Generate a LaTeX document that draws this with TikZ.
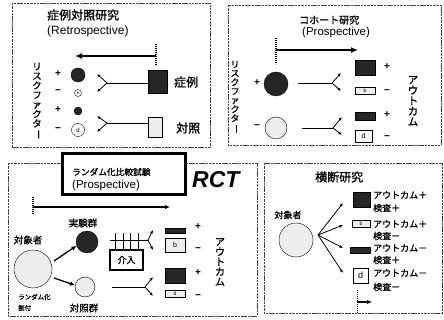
\documentclass[tikz,border=0pt]{standalone}
\usepackage{fontspec}
\setmainfont{Liberation Sans}
\newfontfamily\jp[FakeBold=1.2]{Noto Sans CJK JP}
\usetikzlibrary{arrows.meta}
\newcommand\myfs[2]{\fontsize{#1}{#2}\selectfont}
\newcommand\vbar{\rotatebox[origin=c]{-90}{ー}}
\begin{document}
\begin{tikzpicture}[x=1pt,y=-1pt,
  frame/.style={draw=black!75, line width=0.7pt, dash pattern=on 2.5pt off 0.8pt},
  dk/.style={draw=black, fill=black!85, inner sep=0},
  lt/.style={draw=black, fill=black!7, inner sep=0},
  wt/.style={draw=black, fill=white, inner sep=0},
  fk/.style={line width=0.8pt, -{Latex[length=3.5pt,width=3pt]}},
  stem/.style={line width=0.8pt},
  big/.style={line width=2.5pt, -{Latex[length=7pt,width=6pt]}},
  mid/.style={line width=1.4pt, -{Latex[length=5pt,width=4.5pt]}},
  dot/.style={line width=1.3pt, dash pattern=on 1.2pt off 0.8pt},
  jt/.style={inner sep=0, font=\jp\myfs{#1}{#1}},
  jt/.default=10,
  lat/.style={inner sep=0, font=\myfs{#1}{#1}},
  lat/.default=11,
  sg/.style={inner sep=0, font=\myfs{10}{10}\bfseries},
  vt/.style={inner sep=0, align=center, font=\jp\myfs{#1}{#1}},
  tiny/.style={font=\myfs{5}{5}}
]
\useasboundingbox (0,0) rectangle (444,320);

% ---------- frames ----------
\draw[frame] (12,3) rectangle (210,147);
\draw[frame] (228,5) rectangle (441,145);
\draw[frame] (8,163) rectangle (257,316);
\draw[frame] (264,163) rectangle (442,313);

% ---------- top-left : case-control ----------
\node[jt=12, anchor=west] (t1) at (47,15) {症例対照研究};
\node[lat=12, anchor=west] (t1b) at (47,31) {(Retrospective)};
\coordinate (r0) at (156,56);
\coordinate (r1) at (75,56);
\coordinate (r0t) at (156,44);
\coordinate (r0b) at (156,66);
\draw[dot] (r0t) -- (r0b);
\draw[big] (r0) -- (r1);

\node[vt=9.5] (rf1) at (37,101) {リ\\ス\\ク\\フ\\ァ\\ク\\タ\\\vbar};

\node[sg] at (58,74) {+};
\node[sg] at (58,92) {−};
\node[sg] at (58,110) {+};
\node[sg] at (58,130) {−};
\node[dk, circle, minimum size=14pt] (ca) at (78,75) {};
\node[wt, circle, minimum size=7pt, font=\myfs{4}{4}] (cb) at (78,93) {b};
\node[dk, circle, minimum size=8pt] (cc) at (78,111) {};
\node[wt, circle, minimum size=13pt, font=\myfs{6}{6}] (cd) at (78,130) {d};

\node[dk, minimum width=19pt, minimum height=23pt] (case) at (157.5,81.5) {};
\node[lt, minimum width=14pt, minimum height=20pt] (ctrl) at (155,127) {};
\node[jt=12, anchor=west] (tcase) at (174,82) {症例};
\node[jt=12, anchor=west] (tctrl) at (176,128) {対照};
\coordinate (j1) at (107,83);
\coordinate (j1a) at (97,74);
\coordinate (j1b) at (97,92);
\coordinate (j2) at (107,123);
\coordinate (j2a) at (97,116);
\coordinate (j2b) at (97,132);
\draw[stem] (case.west |- j1) -- (j1);
\draw[fk] (j1) -- (j1a);
\draw[fk] (j1) -- (j1b);
\draw[stem] (ctrl.west |- j2) -- (j2);
\draw[fk] (j2) -- (j2a);
\draw[fk] (j2) -- (j2b);

% ---------- top-right : cohort ----------
\node[jt=10, anchor=west] (t2) at (299,20) {コホート研究};
\node[lat=11.5, anchor=west] (t2b) at (302,33) {(Prospective)};
\coordinate (p0t) at (276,38);
\coordinate (p0b) at (276,64);
\coordinate (p0) at (276,50);
\coordinate (p1) at (358,50);
\draw[dot] (p0t) -- (p0b);
\draw[big] (p0) -- (p1);

\node[vt=9] (rf2) at (235,97) {リ\\ス\\ク\\フ\\ァ\\ク\\タ\\\vbar};
\node[sg] at (257,83) {+};
\node[sg] at (257,127) {−};
\node[dk, circle, minimum size=24pt] (ce) at (276,84) {};
\node[lt, circle, minimum size=22pt] (cu) at (276,128) {};

\coordinate (k1s) at (298,83);
\coordinate (k1) at (332,83);
\coordinate (k1a) at (341,73);
\coordinate (k1b) at (341,91);
\coordinate (k2s) at (302,128);
\coordinate (k2) at (333,128);
\coordinate (k2a) at (342,117);
\coordinate (k2b) at (342,135);
\draw[stem] (k1s) -- (k1);
\draw[fk] (k1) -- (k1a);
\draw[fk] (k1) -- (k1b);
\draw[stem] (k2s) -- (k2);
\draw[fk] (k2) -- (k2a);
\draw[fk] (k2) -- (k2b);

\node[dk, minimum width=20pt, minimum height=15pt] (qa) at (365,67.5) {};
\node[lt, minimum width=20pt, minimum height=7pt, tiny] (qb) at (365,90.5) {b};
\node[dk, minimum width=20pt, minimum height=8pt] (qc) at (365,116) {};
\node[wt, minimum width=17pt, minimum height=12pt, font=\myfs{7}{7}] (qd) at (363.5,136) {d};
\node[sg] at (387,67) {+};
\node[sg] at (387,92) {−};
\node[sg] at (387,115) {+};
\node[sg] at (387,138) {−};
\node[vt=10.5] (oc2) at (413,101) {ア\\ウ\\ト\\カ\\ム};

% ---------- bottom-left : RCT ----------
\draw[line width=3pt, fill=white] (62,154) rectangle (185,195);
\node[jt=8.7, anchor=west] (t3) at (72,172) {ランダム化比較試験};
\node[lat=11.5, anchor=west] (t3b) at (72,186) {(Prospective)};
\node[inner sep=0, anchor=west, font=\myfs{23}{23}\bfseries\itshape] (rct) at (192,180) {RCT};

\coordinate (q0t) at (33,197);
\coordinate (q0b) at (33,214);
\coordinate (q0) at (33,207);
\coordinate (q1) at (170,207);
\draw[dot] (q0t) -- (q0b);
\draw[mid] (q0) -- (q1);

\node[jt=9.5] (tsub) at (28,240) {対象者};
\node[lt, circle, minimum size=38pt] (sub) at (33,269) {};
\node[jt=6.5, anchor=west] (tr1) at (18,297) {ランダム化};
\node[jt=6.5, anchor=west] (tr2) at (18,308) {割付};
\node[jt=9.5] (texp) at (83,223) {実験群};
\node[dk, circle, minimum size=22pt] (exp) at (87,242) {};
\node[lt, circle, minimum size=20pt] (con) at (85,287) {};
\node[jt=9.5] (tcon) at (84,308) {対照群};
\coordinate (s1) at (54,261);
\coordinate (s2) at (54,278);
\draw[mid, line width=1.3pt] (s1) -- (exp.200);
\draw[mid, line width=1.3pt] (s2) -- (con.170);

\node[draw=black, line width=2.5pt, minimum width=33pt, minimum height=20pt, inner sep=0, font=\jp\myfs{9}{9}] (iv) at (126.5,260) {介入};
\coordinate (m0) at (110,240);
\coordinate (m1) at (148,240);
\draw[stem] (m0) -- (m1);
\foreach \xx in {115,123,130,138}
  \draw[line width=0.9pt] (\xx,233) -- (\xx,250);
\coordinate (m1a) at (153,230);
\coordinate (m1b) at (153,250);
\draw[fk] (m1) -- (m1a);
\draw[fk] (m1) -- (m1b);
\coordinate (n0) at (112,287);
\coordinate (n1) at (145,287);
\coordinate (n1a) at (153,277);
\coordinate (n1b) at (153,296);
\draw[stem] (n0) -- (n1);
\draw[fk] (n1) -- (n1a);
\draw[fk] (n1) -- (n1b);

\node[dk, minimum width=20pt, minimum height=5pt] (ra) at (175,230.5) {};
\node[lt, minimum width=20pt, minimum height=14pt, font=\myfs{7}{7}] (rb) at (175,245) {b};
\node[dk, minimum width=20pt, minimum height=15pt] (rc) at (175,275.5) {};
\node[lt, minimum width=20pt, minimum height=7pt, tiny] (rd) at (175,293.5) {d};
\node[sg] at (198,227) {+};
\node[sg] at (198,250) {−};
\node[sg] at (198,273) {+};
\node[sg] at (198,297) {−};
\node[vt=10] (oc3) at (220,262) {ア\\ウ\\ト\\カ\\ム};

% ---------- bottom-right : cross-sectional ----------
\node[jt=12, anchor=west] (t4) at (315,177) {横断研究};
\node[jt=9] (tsub2) at (288,215) {対象者};
\node[lt, circle, minimum size=34pt] (sub2) at (296,240) {};
\coordinate (f0) at (318,235);
\coordinate (f1) at (343,203);
\coordinate (f2) at (343,225);
\coordinate (f3) at (343,248);
\coordinate (f4) at (343,273);
\foreach \ff in {f1,f2,f3,f4}
  \draw[fk] (f0) -- (\ff);

\node[dk, minimum width=17pt, minimum height=15pt] (xa) at (361.5,199.5) {};
\node[lt, minimum width=18pt, minimum height=7pt, tiny] (xb) at (361,223.5) {b};
\node[dk, minimum width=20pt, minimum height=6pt] (xc) at (360,250) {};
\node[wt, minimum width=15pt, minimum height=15pt, font=\myfs{9}{9}] (xd) at (360.5,275.5) {d};
\node[jt=9, anchor=west] at (373,195) {アウトカム＋};
\node[jt=9, anchor=west] at (373,208) {検査＋};
\node[jt=9, anchor=west] at (373,224) {アウトカム＋};
\node[jt=9, anchor=west] at (373,236) {検査－};
\node[jt=9, anchor=west] at (373,248) {アウトカム－};
\node[jt=9, anchor=west] at (373,260) {検査＋};
\node[jt=9, anchor=west] at (373,273) {アウトカム－};
\node[jt=9, anchor=west] at (373,287) {検査－};

\coordinate (g0t) at (357,290);
\coordinate (g0b) at (357,313);
\coordinate (g0) at (357,302);
\coordinate (g1) at (372,302);
\draw[dot, line width=1pt] (g0t) -- (g0b);
\draw[mid] (g0) -- (g1);
\end{tikzpicture}
\end{document}
